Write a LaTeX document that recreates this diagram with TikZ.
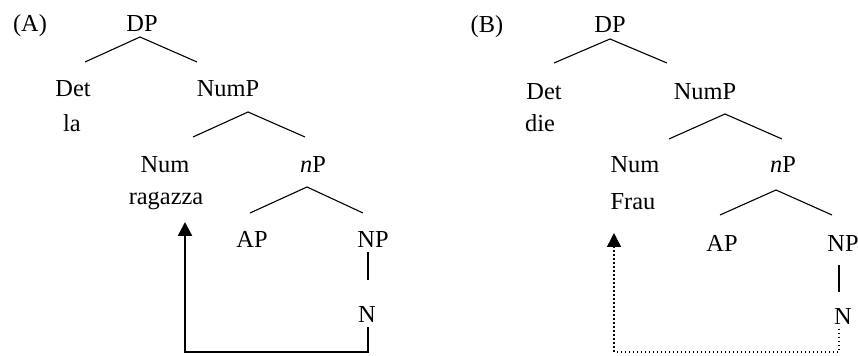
\documentclass[tikz,border=0pt]{standalone}
\usepackage{fontspec}
\setmainfont{Liberation Serif}
\usetikzlibrary{arrows.meta}
\begin{document}
\begin{tikzpicture}[x=0.5pt,y=-0.5pt,
  lbl/.style={anchor=base,inner sep=0pt,font=\fontsize{12.2}{14}\selectfont},
  branch/.style={line width=0.55pt},
  unary/.style={line width=0.8pt},
  movesolid/.style={line width=1.2pt,-{Triangle[width=7pt,length=7pt]}},
  movedot/.style={line width=0.75pt,dash pattern=on 0.75pt off 1.25pt,-{Triangle[width=7pt,length=7pt]}}]
\useasboundingbox (0,0) rectangle (858,356);
% ---------- (A) ----------
\node[lbl] (aLab) at (30,32) {(A)};
\node[lbl] (aDP) at (142,32) {DP};
\node[lbl] (aDet) at (73,97) {Det};
\node[lbl] (ala) at (72,132) {la};
\node[lbl] (aNumP) at (228,97) {NumP};
\node[lbl] (aNum) at (165,173) {Num};
\node[lbl] (anP) at (313,173) {\textit{n}P};
\node[lbl] (arag) at (166,205) {ragazza};
\node[lbl] (aAP) at (252,248) {AP};
\node[lbl] (aNP) at (373,248) {NP};
\node[lbl] (aN) at (367,323) {N};
\coordinate (a1t) at (140,37); \coordinate (a1l) at (85,62); \coordinate (a1r) at (197,62);
\coordinate (a2t) at (248,112); \coordinate (a2l) at (193,137); \coordinate (a2r) at (305,137);
\coordinate (a3t) at (307,187); \coordinate (a3l) at (250,213); \coordinate (a3r) at (363,213);
\draw[branch] (a1l) -- (a1t) -- (a1r);
\draw[branch] (a2l) -- (a2t) -- (a2r);
\draw[branch] (a3l) -- (a3t) -- (a3r);
\coordinate (aUt) at (368,252); \coordinate (aUb) at (368,280);
\draw[unary] (aUt) -- (aUb);
\coordinate (aStart) at (368,327);
\coordinate (aCorner) at (185,352);
\coordinate (aTip) at (185,222);
\draw[movesolid] (aStart) |- (aCorner) -- (aTip);
% ---------- (B) ----------
\node[lbl] (bLab) at (487,33) {(B)};
\node[lbl] (bDP) at (610,33) {DP};
\node[lbl] (bDet) at (544,100) {Det};
\node[lbl] (bdie) at (540,132) {die};
\node[lbl] (bNumP) at (705,100) {NumP};
\node[lbl] (bNum) at (635,173) {Num};
\node[lbl] (bnP) at (783,173) {\textit{n}P};
\node[lbl] (bFrau) at (633,210) {Frau};
\node[lbl] (bAP) at (722,252) {AP};
\node[lbl] (bNP) at (843,252) {NP};
\node[lbl] (bN) at (843,325) {N};
\coordinate (b1t) at (610,39); \coordinate (b1l) at (554,63); \coordinate (b1r) at (667,63);
\coordinate (b2t) at (725,114); \coordinate (b2l) at (669,139); \coordinate (b2r) at (782,139);
\coordinate (b3t) at (776,190); \coordinate (b3l) at (720,215); \coordinate (b3r) at (832,215);
\draw[branch] (b1l) -- (b1t) -- (b1r);
\draw[branch] (b2l) -- (b2t) -- (b2r);
\draw[branch] (b3l) -- (b3t) -- (b3r);
\coordinate (bUt) at (839,265); \coordinate (bUb) at (839,292);
\draw[unary] (bUt) -- (bUb);
\coordinate (bStart) at (839,329);
\coordinate (bCorner) at (614,352);
\coordinate (bTip) at (614,233);
\draw[movedot] (bStart) |- (bCorner) -- (bTip);
\end{tikzpicture}
\end{document}
